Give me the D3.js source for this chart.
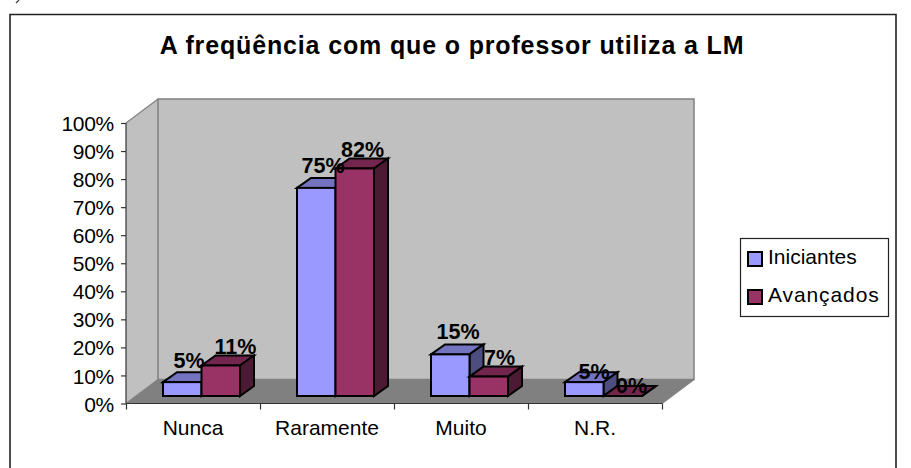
<!DOCTYPE html>
<html><head><meta charset="utf-8">
<script src="https://cdn.jsdelivr.net/npm/d3@7"></script>
<style>html,body{margin:0;padding:0;background:#fff}svg{display:block}text{font-family:"Liberation Sans",Arial,sans-serif;fill:#000}</style>
</head><body><script>
const categories = ["Nunca","Raramente","Muito","N.R."];
const iniciantes = [5,75,15,5];
const avancados = [11,82,7,0];
const seriesNames = ["Iniciantes","Avançados"];
const yTicks = [0,10,20,30,40,50,60,70,80,90,100];
const titleText = "A freqüência com que o professor utiliza a LM";

const svg = d3.select("body").append("svg").attr("width",911).attr("height",468);
const x = d3.scaleBand().domain(categories).range([126,662]).padding(0);
const y = d3.scaleLinear().domain([0,100]).range([403.5,123]);
const h = d3.scaleLinear().domain([0,100]).range([0,277.5]);
const wall = {dx:32,dy:-24};
const bar = {dx:14,dy:-10,w:38.5,base:396};
// hand placement of the data labels, as in the original: [x from bar left, y above bar top]
const iniLabelNudge = [[26,14],[26,15],[27,15],[29,3]];
const avLabelNudge = [[34,11],[27,11],[30,12],[28,3]];
const poly=(pts,fill,stroke,sw)=>svg.append("polygon").attr("points",pts.map(p=>p.join(",")).join(" ")).attr("fill",fill).attr("stroke",stroke).attr("stroke-width",sw).attr("stroke-linejoin","miter");

svg.append("path").attr("d","M19,0 L16,3").attr("fill","none").attr("stroke","#444").attr("stroke-width",1.2);
// frame runs off the bottom of the picture
svg.append("path").attr("d","M10,468V14.5H896V468").attr("fill","none").attr("stroke","#222").attr("stroke-width",1.6);
svg.append("text").attr("x",452).attr("y",53.5).attr("text-anchor","middle").attr("font-size",25).attr("font-weight","bold").style("letter-spacing","0.85px").text(titleText);

const [x0,x1]=x.range(), y0=y(0), y1=y(100);
// floor and walls
poly([[x0,y0],[x0+wall.dx,y0+wall.dy],[x1+wall.dx,y0+wall.dy],[x1,y0]],"#808080","none",0);
poly([[x0,y0],[x0+wall.dx,y0+wall.dy],[x0+wall.dx,y1+wall.dy],[x0,y1]],"#c0c0c0","none",0);
svg.append("rect").attr("x",x0+wall.dx).attr("y",y1+wall.dy).attr("width",x1-x0).attr("height",y0-y1).attr("fill","#c0c0c0").attr("stroke","#808080").attr("stroke-width",1.5);
svg.append("path").attr("d",`M${x0},${y1}L${x0+wall.dx},${y1+wall.dy}M${x0},${y0}L${x0+wall.dx},${y0+wall.dy}M${x1},${y0}L${x1+wall.dx},${y0+wall.dy}`).attr("fill","none").attr("stroke","#808080").attr("stroke-width",1.2);

// axes
const yAxis=d3.axisLeft(y).tickValues(yTicks).tickSize(5).tickFormat(d=>d+"%");
const gy=svg.append("g").attr("transform",`translate(${x0},0)`).call(yAxis);
const xAxis=d3.axisBottom(d3.scaleLinear().domain([0,categories.length]).range([x0,x1])).ticks(categories.length).tickSize(6).tickFormat("");
const gx=svg.append("g").attr("transform",`translate(0,${y0})`).call(xAxis);
[gy,gx].forEach(g=>{g.selectAll(".domain,line").attr("stroke","#333").attr("stroke-width",1.2);});
gy.select(".domain").attr("d",`M0,${y1}V${y0}`);
gx.select(".domain").attr("d",`M${x0},0H${x1}`);
gy.selectAll("text").attr("font-size",21).attr("x",-12).attr("dy","0.36em").attr("fill","#000").style("font-family","'Liberation Sans'").style("letter-spacing","-0.3px");
svg.selectAll(".cat").data(categories).join("text").attr("class","cat")
  .attr("x",d=>x(d)+x.bandwidth()/2).attr("y",435).attr("text-anchor","middle").attr("font-size",21).text(d=>d);

// bars
const colors=[{f:"#9999ff",t:"#7373bf",s:"#4d4d80"},{f:"#993366",t:"#73264d",s:"#4d1a33"}];
function drawBar(xl,v,c){
  const t=bar.base-h(v),r=xl+bar.w,{dx,dy}=bar;
  poly([[xl,t],[xl+dx,t+dy],[r+dx,t+dy],[r,t]],c.t,"#000",2);
  poly([[r,t],[r+dx,t+dy],[r+dx,bar.base+dy],[r,bar.base]],c.s,"#000",2);
  if(v>0) svg.append("rect").attr("x",xl).attr("y",t).attr("width",bar.w).attr("height",h(v)).attr("fill",c.f).attr("stroke","#000").attr("stroke-width",2);
  else svg.append("line").attr("x1",xl).attr("x2",r).attr("y1",t).attr("y2",t).attr("stroke","#000").attr("stroke-width",2);
}
categories.forEach((cat,i)=>{
  const l=x(cat)+37;
  drawBar(l,iniciantes[i],colors[0]);
  drawBar(l+bar.w,avancados[i],colors[1]);
});
// data labels
const lab=(xc,v,yy)=>svg.append("text").attr("x",xc).attr("y",yy).attr("text-anchor","middle").attr("font-size",21.5).attr("font-weight","bold").text(v+"%");
categories.forEach((cat,i)=>{
  const l=x(cat)+37;
  lab(l+iniLabelNudge[i][0],iniciantes[i],bar.base-h(iniciantes[i])-iniLabelNudge[i][1]);
  lab(l+bar.w+avLabelNudge[i][0],avancados[i],bar.base-h(avancados[i])-avLabelNudge[i][1]);
});
// legend
svg.append("rect").attr("x",740.5).attr("y",238.5).attr("width",148).attr("height",78).attr("fill","#fff").attr("stroke","#222").attr("stroke-width",1.2);
seriesNames.forEach((n,i)=>{
  const yy=258+i*38;
  svg.append("rect").attr("x",748).attr("y",yy-6).attr("width",14).attr("height",14).attr("fill",colors[i].f).attr("stroke","#000").attr("stroke-width",2);
  svg.append("text").attr("x",768).attr("y",yy+6).attr("font-size",21).style("letter-spacing",i?"0.9px":"0").text(n);
});
</script></body></html>
